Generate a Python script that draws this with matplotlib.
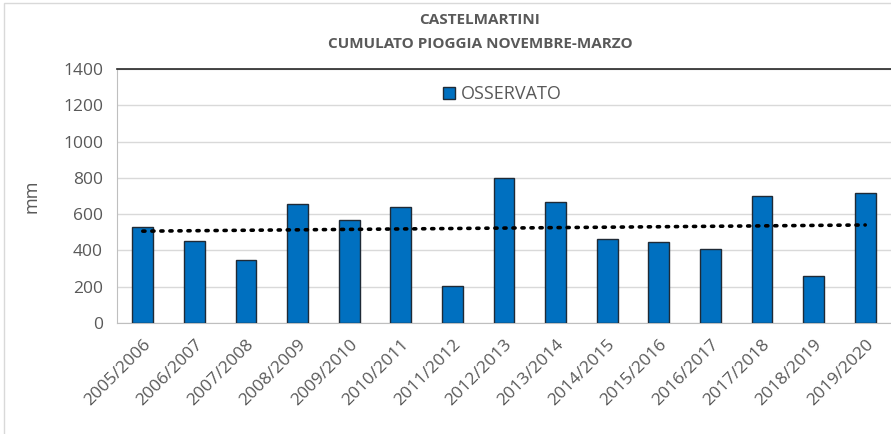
import matplotlib.pyplot as plt
import numpy as np
from matplotlib.patches import Rectangle

stagioni = ['2005/2006', '2006/2007', '2007/2008', '2008/2009', '2009/2010',
            '2010/2011', '2011/2012', '2012/2013', '2013/2014', '2014/2015',
            '2015/2016', '2016/2017', '2017/2018', '2018/2019', '2019/2020']
osservato = [527, 452, 347, 654, 568, 641, 204, 799, 668, 461, 446, 406, 700, 261, 715]

titolo = 'CASTELMARTINI\nCUMULATO PIOGGIA NOVEMBRE-MARZO'
grigio = '#595959'

plt.rcParams['font.family'] = ['Open Sans', 'DejaVu Sans']

fig = plt.figure(figsize=(8.91, 4.34), dpi=100)
# bordo esterno del grafico
fig.patches.append(Rectangle((4 / 891, -0.1), 1.2, (434 - 3) / 434 + 0.1,
                             transform=fig.transFigure, fill=False,
                             edgecolor='#d9d9d9', lw=1))

ax = fig.add_axes([117 / 891, (434 - 323) / 434, (891 - 117) / 891, 254 / 434])
x = np.arange(len(stagioni))
ax.bar(x, osservato, width=0.4, color='#0070C0', edgecolor='#1f2a36',
       linewidth=1, label='OSSERVATO', zorder=3)

# linea di tendenza lineare
coef = np.polyfit(x, osservato, 1)
ax.plot(x, np.polyval(coef, x), linestyle=(0, (0.6, 1.9)), color='black',
        lw=2.6, dash_capstyle='round', zorder=4)

ax.set_xlim(-0.5, len(stagioni) - 0.5)
ax.set_ylim(0, 1400)
ax.set_yticks(np.arange(0, 1401, 200))
ax.grid(axis='y', color='#d9d9d9', lw=1, zorder=0)
ax.set_xticks(x)
ax.set_xticklabels(stagioni, rotation=45, ha='right', rotation_mode='anchor')
ax.tick_params(axis='both', length=0, labelsize=12.5, labelcolor=grigio)
ax.tick_params(axis='x', pad=10)
ax.tick_params(axis='y', pad=10)
ax.set_ylabel('mm', fontsize=13, color=grigio, labelpad=16)

ax.spines['right'].set_visible(False)
ax.spines['top'].set_color('#262626')
ax.spines['top'].set_linewidth(1.2)
ax.spines['left'].set_color('#bfbfbf')
ax.spines['bottom'].set_color('#bfbfbf')

ax.legend(loc='upper left', bbox_to_anchor=(0.40, 1.0), frameon=False,
          fontsize=13, handlelength=0.7, handleheight=0.7, handletextpad=0.3,
          labelcolor=grigio)

fig.text(480 / 891, 1 - 32 / 434, titolo, ha='center', va='center',
         fontsize=11, fontweight='bold', color=grigio, linespacing=1.85)

fig.savefig('out.png', dpi=100)
